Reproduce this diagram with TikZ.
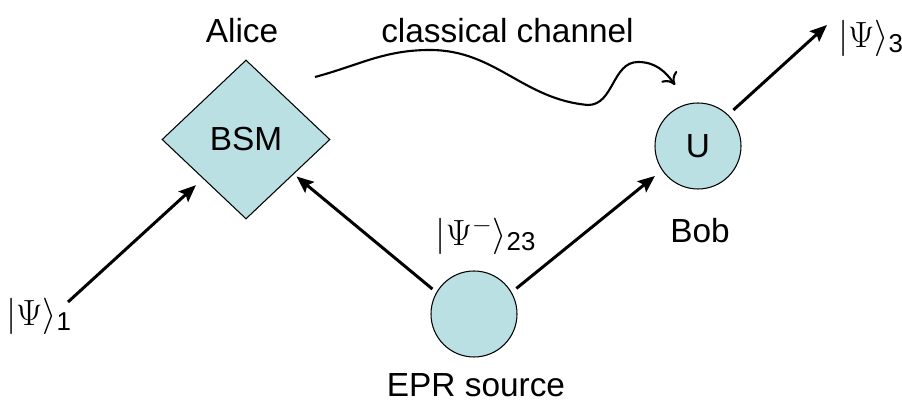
\documentclass[tikz,border=0pt]{standalone}
\usepackage{amsmath}
\usepackage{fontspec}
\setmainfont{Liberation Sans}
\usepackage{tikz}
\usetikzlibrary{shapes.geometric,arrows.meta}
\definecolor{qubitblue}{RGB}{186,224,228}

\begin{document}
\begin{tikzpicture}[scale=1,
    font=\fontsize{19}{23}\selectfont,
    device/.style={draw,fill=qubitblue,line width=0.6pt,inner sep=0pt},
    ket/.style={font=\fontsize{21}{25}\selectfont,inner sep=0pt},
    qarrow/.style={line width=1.7pt,-{Stealth[length=0.34cm,width=0.28cm,inset=0.06cm]}},
    chan/.style={line width=1.2pt,-{To[length=0.22cm,width=0.38cm,line width=1.2pt]}}]
            \useasboundingbox (0,0) rectangle (18.04,8.06);
            \node[device,shape=diamond,minimum width=3.36cm,minimum height=3.18cm] (bsm) at (4.92,5.27) {BSM};
            \node[device,circle,minimum size=1.72cm] (u) at (13.96,5.14) {U};
            \node[device,circle,minimum size=1.72cm] (epr) at (9.48,1.78) {};
            \node[anchor=base] (alice) at (4.84,7.2) {Alice};
            \node[anchor=base] (chanlabel) at (10.15,7.2) {classical channel};
            \node[anchor=base] (bob) at (14.0,3.2) {Bob};
            \node[anchor=base] (source) at (9.52,0.12) {EPR source};
            \node[ket] (psi1) at (0.78,1.74) {$|\Psi\rangle_{\text{1}}$};
            \node[ket] (psi3) at (17.42,7.30) {$|\Psi\rangle_{\text{3}}$};
            \node[ket] (psi23) at (9.72,3.34) {$|\Psi^{-}\rangle_{\text{23}}$};
            \coordinate (in1) at (1.36,2.02);
            \coordinate (out3) at (16.54,7.56);
            \coordinate (cstart) at (6.30,6.52);
            \coordinate (cend) at (13.50,6.36);
            \draw[qarrow,shorten >=0.19cm] (in1) -- (bsm);
            \draw[qarrow,shorten <=0.1cm,shorten >=0.07cm] (epr.150) -- (bsm.-36);
            \draw[qarrow,shorten <=0.12cm,shorten >=0.18cm] (epr.30) -- (u.214);
            \draw[qarrow,shorten <=0.14cm] (u.46) -- (out3);
            %classical channel
            \draw[chan] (cstart) to[out=15,in=180] (8.6,7.06) to[out=0,in=175] (11.76,5.96)
                to[out=0,in=180] (12.76,6.82) to[out=0,in=125] (cend);
        \end{tikzpicture}
\end{document}
